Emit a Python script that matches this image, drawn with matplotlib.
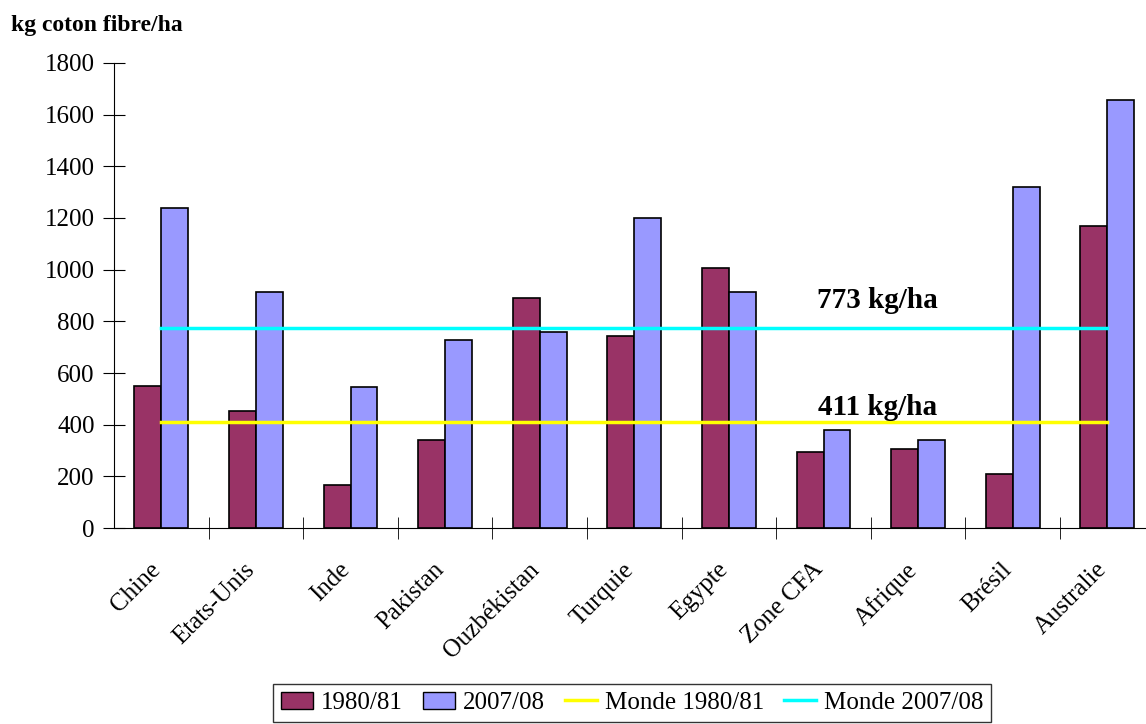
import matplotlib.pyplot as plt
import matplotlib.transforms as mtransforms
import numpy as np
from matplotlib.patches import Patch
from matplotlib.lines import Line2D

plt.rcParams['font.family'] = ['Liberation Serif', 'DejaVu Serif']

pays = ['Chine', 'Etats-Unis', 'Inde', 'Pakistan', 'Ouzbékistan', 'Turquie',
        'Egypte', 'Zone CFA', 'Afrique', 'Brésil', 'Australie']
rdt_1980 = [551, 454, 168, 341, 892, 742, 1008, 295, 305, 210, 1170]
rdt_2007 = [1238, 915, 545, 728, 760, 1200, 915, 378, 341, 1319, 1657]
monde_1980 = 411
monde_2007 = 773

c_1980 = '#993366'
c_2007 = '#9999FF'

fig = plt.figure(figsize=(11.46, 7.24), dpi=100)
ax = fig.add_axes([0.0995, 0.2707, 0.908, 0.6423])

x = np.arange(len(pays))
w = 0.285
ax.bar(x - w / 2, rdt_1980, w, color=c_1980, edgecolor='black', linewidth=1.2)
ax.bar(x + w / 2, rdt_2007, w, color=c_2007, edgecolor='black', linewidth=1.2)
ax.plot(x, [monde_1980] * len(x), color='#FFFF00', lw=2.5)
ax.plot(x, [monde_2007] * len(x), color='#00FFFF', lw=2.5)

ax.text(7.57, monde_2007 + 55, f'{monde_2007} kg/ha', fontsize=21, fontweight='bold', ha='center', va='bottom')
ax.text(7.57, monde_1980 + 5, f'{monde_1980} kg/ha', fontsize=21, fontweight='bold', ha='center', va='bottom')

ax.set_xlim(-0.5, len(pays) - 0.5)
ax.set_ylim(0, 1800)
ax.set_yticks(range(0, 1801, 200))
ax.tick_params(axis='y', direction='inout', length=16, labelsize=18, pad=6)
ax.set_xticks(x)
ax.set_xticklabels(pays, rotation=45, ha='right', rotation_mode='anchor', fontsize=18)
ax.tick_params(axis='x', which='major', length=0, pad=22)
off = mtransforms.ScaledTranslation(-12 / 100, 0, fig.dpi_scale_trans)
for lab in ax.get_xticklabels():
    lab.set_transform(lab.get_transform() + off)
ax.set_xticks(np.arange(0.5, len(pays) - 0.5, 1), minor=True)
ax.tick_params(axis='x', which='minor', direction='inout', length=16)
for s in ['top', 'right']:
    ax.spines[s].set_visible(False)

fig.text(0.01, 0.965, 'kg coton fibre/ha', fontsize=17, fontweight='bold', ha='left', va='center')

handles = [Patch(facecolor=c_1980, edgecolor='black', label='1980/81'),
           Patch(facecolor=c_2007, edgecolor='black', label='2007/08'),
           Line2D([], [], color='#FFFF00', lw=2.5, label='Monde 1980/81'),
           Line2D([], [], color='#00FFFF', lw=2.5, label='Monde 2007/08')]
leg = fig.legend(handles=handles, loc='lower center', bbox_to_anchor=(0.5515, 0.0), ncol=4,
                 fontsize=18, frameon=True, fancybox=False, edgecolor='black',
                 handlelength=1.3, handletextpad=0.3, columnspacing=0.8,
                 borderpad=0.3, borderaxespad=0.1)
leg.get_frame().set_linewidth(1.0)

fig.savefig('out.png', dpi=100)
